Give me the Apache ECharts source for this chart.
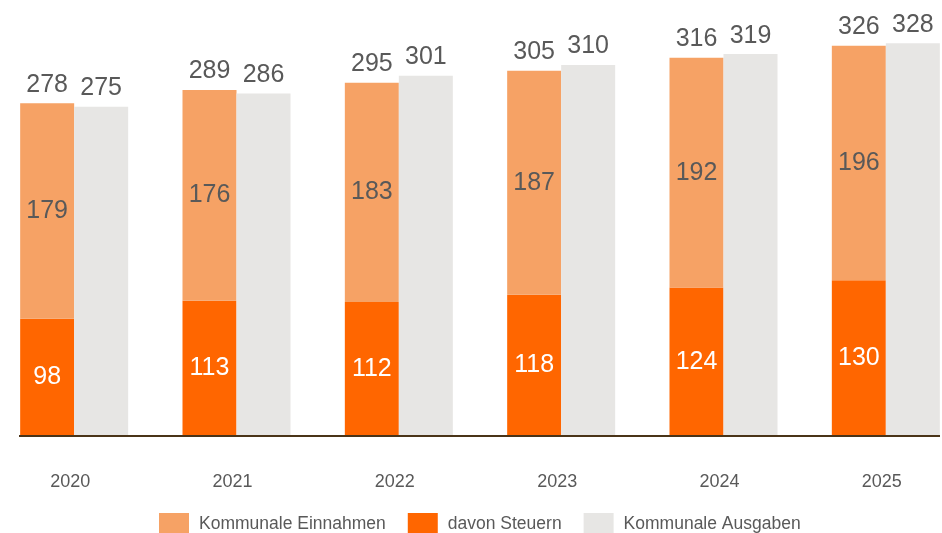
<!DOCTYPE html>
<html>
<head>
<meta charset="utf-8">
<script src="https://cdn.jsdelivr.net/npm/echarts@6/dist/echarts.min.js"></script>
<style>
  html, body { margin: 0; padding: 0; background: #fff; }
  #myChart { width: 942px; height: 533px; }
</style>
</head>
<body>
<div id="myChart"></div>
<script>
var years = ['2020', '2021', '2022', '2023', '2024', '2025'];
var einnahmen = [278, 289, 295, 305, 316, 326];      // Kommunale Einnahmen (gesamt)
var steuern = [98, 113, 112, 118, 124, 130];          // davon Steuern
var einnahmenRest = [179, 176, 183, 187, 192, 196];   // Beschriftung im hellen Teil
var ausgaben = [275, 286, 301, 310, 319, 328];        // Kommunale Ausgaben

var font = '"Liberation Sans", Arial, sans-serif';
var textColor = '#595959';

case_chart();

function case_chart() {
    var myChart = echarts.init(document.getElementById('myChart'));
    var rest = [];
    var zeros = [];
    for (var i = 0; i < einnahmen.length; i++) {
        rest.push(einnahmen[i] - steuern[i]);
        zeros.push(0);
    }
    var option = {
        animation: false,
        textStyle: { fontFamily: font },
        // grid darf über den Rand hinaus (Balken wie im Original)
        grid: { left: -7, right: -25, top: 17, bottom: 97, outerBoundsMode: 'none', containLabel: false },
        legend: {
            data: ['Kommunale Einnahmen', 'davon Steuern', 'Kommunale Ausgaben'],
            icon: 'rect',
            bottom: -7,
            left: 154,
            itemWidth: 30,
            itemHeight: 22,
            itemGap: 22,
            textStyle: { fontFamily: font, fontSize: 17.5, color: textColor, padding: [0, 0, 0, 5] }
        },
        xAxis: {
            type: 'category',
            data: years,
            axisLine: { show: false },
            axisTick: { show: false },
            axisLabel: { margin: 37, fontSize: 18, color: textColor, fontFamily: font, padding: [0, 8, 0, 0] }
        },
        yAxis: {
            type: 'value',
            min: 0,
            max: 350,
            show: false,
            splitLine: { show: false }
        },
        series: [{
            name: 'davon Steuern',
            type: 'bar',
            stack: 'ein',
            barWidth: 54,
            barGap: '0%',
            itemStyle: { color: '#FF6600' },
            label: { show: true, position: 'inside', color: '#fff', fontSize: 25, fontFamily: font },
            data: steuern
        }, {
            name: 'Kommunale Einnahmen',
            type: 'bar',
            stack: 'ein',
            barWidth: 54,
            itemStyle: { color: '#F6A265' },
            label: {
                show: true, position: 'inside', color: textColor, fontSize: 25, fontFamily: font,
                formatter: function(p) { return einnahmenRest[p.dataIndex]; }
            },
            data: rest
        }, {
            name: 'summe',
            type: 'bar',
            stack: 'ein',
            barWidth: 54,
            itemStyle: { color: 'transparent' },
            label: {
                show: true, position: 'top', distance: 6, color: textColor, fontSize: 25, fontFamily: font,
                formatter: function(p) { return einnahmen[p.dataIndex]; }
            },
            data: zeros
        }, {
            name: 'Kommunale Ausgaben',
            type: 'bar',
            barWidth: 54,
            itemStyle: { color: '#E7E6E4' },
            label: { show: true, position: 'top', distance: 6, color: textColor, fontSize: 25, fontFamily: font },
            data: ausgaben
        }],
        graphic: [{
            type: 'line',
            shape: { x1: 19, y1: 436, x2: 940, y2: 436 },
            style: { stroke: '#4A3418', lineWidth: 2 },
            z: 10
        }]
    };
    myChart.setOption(option);
}
</script>
</body>
</html>
